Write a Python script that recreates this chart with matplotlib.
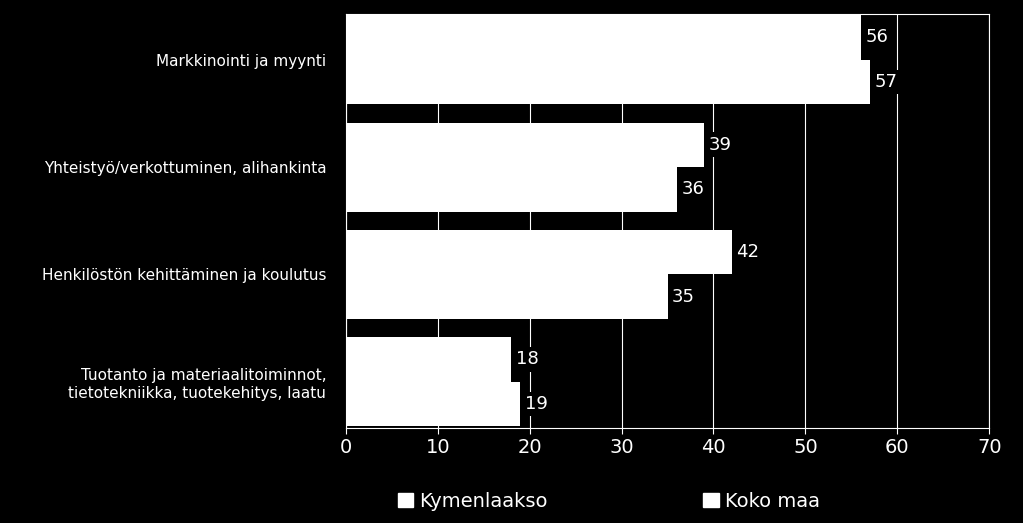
import matplotlib.pyplot as plt
import numpy as np
from matplotlib.patches import Patch

categories = [
    "Markkinointi ja myynti",
    "Yhteistyö/verkottuminen, alihankinta",
    "Henkilöstön kehittäminen ja koulutus",
    "Tuotanto ja materiaalitoiminnot,\ntietotekniikka, tuotekehitys, laatu",
]
kymenlaakso = [56, 39, 42, 18]
koko_maa = [57, 36, 35, 19]
series_names = ["Kymenlaakso", "Koko maa"]

fig = plt.figure(figsize=(10.23, 5.23), dpi=100, facecolor="black")
ax = fig.add_axes([0.338, 0.182, 0.629, 0.791], facecolor="black")

y = np.arange(len(categories))
h = 0.415
b1 = ax.barh(y - h / 2, kymenlaakso, height=h, color="white", zorder=3)
b2 = ax.barh(y + h / 2, koko_maa, height=h, color="white", zorder=3)
for bars in (b1, b2):
    for rect in bars:
        v = rect.get_width()
        ax.text(v + 0.5, rect.get_y() + rect.get_height() / 2, f"{v:g}",
                va="center", ha="left", color="white", fontsize=13, zorder=4,
                bbox=dict(facecolor="black", edgecolor="none", pad=2.5))

ax.set_xlim(0, 70)
ax.set_ylim(3.43, -0.425)
ax.set_xticks(range(0, 71, 10))
ax.set_yticks(y)
ax.set_yticklabels(categories, color="white", fontsize=11)
ax.tick_params(axis="x", colors="white", labelsize=14, length=4)
ax.tick_params(axis="y", length=0, pad=14)
ax.grid(axis="x", color="white", linewidth=0.8, zorder=0)
for s in ("top", "right", "left", "bottom"):
    ax.spines[s].set_color("white")

handles = [Patch(facecolor="white", edgecolor="white") for _ in series_names]
fig.legend(handles, series_names, loc="lower center", bbox_to_anchor=(0.595, -0.01),
           ncol=2, frameon=False, fontsize=14, labelcolor="white",
           columnspacing=8, handlelength=0.8, handleheight=0.8, handletextpad=0.3)

fig.savefig("out.png", dpi=100, facecolor="black")
